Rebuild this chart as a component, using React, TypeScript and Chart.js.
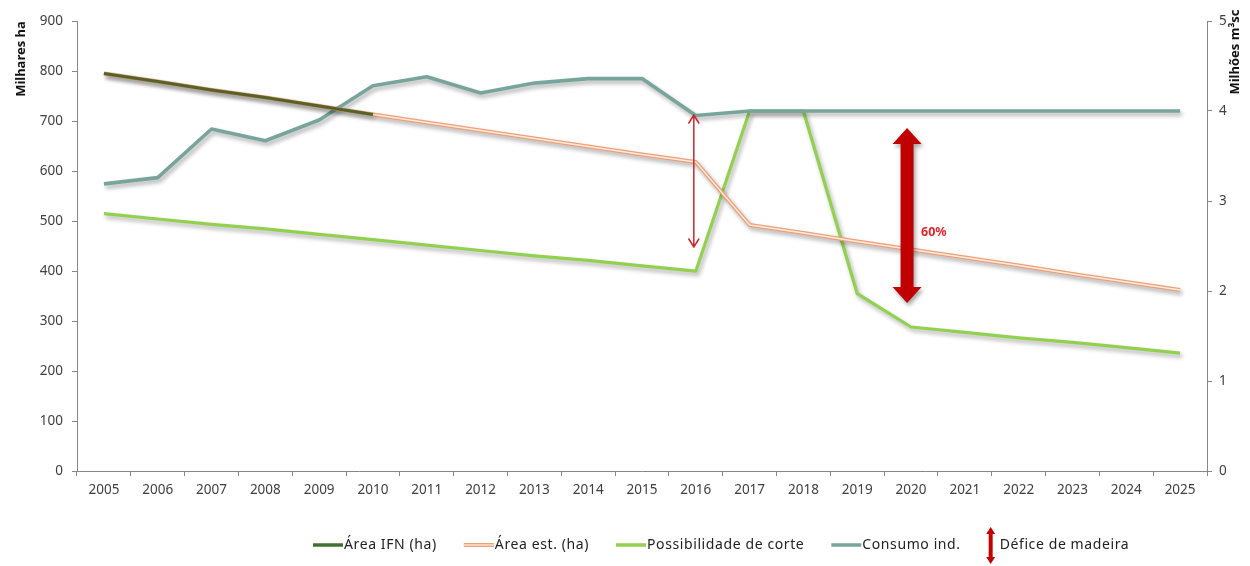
import React, { useEffect, useRef } from "react";
import { Chart, registerables } from "chart.js";

Chart.register(...registerables);

const years = [
  "2005", "2006", "2007", "2008", "2009", "2010", "2011", "2012", "2013", "2014", "2015",
  "2016", "2017", "2018", "2019", "2020", "2021", "2022", "2023", "2024", "2025",
];

// Left axis (Milhares ha)
const areaIFN = [795, 779, 762, 747, 730, 713, null, null, null, null, null, null, null, null, null, null, null, null, null, null, null];
const areaEst = [795, 779, 762, 747, 730, 713, 697, 681, 665, 649, 633, 618, 492, 476, 459, 443, 427, 411, 394, 378, 362];

// Right axis (Milhões m³sc)
const possibilidade = [2.86, 2.8, 2.74, 2.69, 2.63, 2.57, 2.51, 2.45, 2.39, 2.34, 2.28, 2.22, 4.0, 4.0, 1.97, 1.6, 1.54, 1.48, 1.43, 1.37, 1.31];
const consumo = [3.19, 3.26, 3.8, 3.67, 3.9, 4.28, 4.38, 4.2, 4.31, 4.36, 4.36, 3.95, 4.0, 4.0, 4.0, 4.0, 4.0, 4.0, 4.0, 4.0, 4.0];

const leftTicks = [0, 100, 200, 300, 400, 500, 600, 700, 800, 900];
const rightTicks = [0, 1, 2, 3, 4, 5];

// Annotation arrows (category, from, to in left-axis units)
const thinArrowYear = "2016";
const thinArrowRange = [712, 448];
const deficitYear = "2020";
const deficitRange = [686, 336];
const deficitLabel = "60%";
const deficitLabelValue = 478;

const leftTitle = "Milhares ha";
const rightTitle = "Milhões m³sc";
const deficitLegend = "Défice de madeira";

const C_IFN = "#566326";
const C_IFN_LEG = "#3f7230";
const C_EST = "#eba07a";
const C_EST_IN = "#fdebdd";
const C_POS = "#92d050";
const C_CON = "#78a59b";
const C_RED = "#c00000";
const C_AXIS = "#868686";
const C_TXT = "#404040";
const FONT = "'Noto Sans', 'DejaVu Sans', sans-serif";

function blockArrow(ctx: CanvasRenderingContext2D, x: number, yTop: number, yBot: number, shaft: number, headW: number, headH: number) {
  ctx.beginPath();
  ctx.moveTo(x, yTop);
  ctx.lineTo(x + headW / 2, yTop + headH);
  ctx.lineTo(x + shaft / 2, yTop + headH);
  ctx.lineTo(x + shaft / 2, yBot - headH);
  ctx.lineTo(x + headW / 2, yBot - headH);
  ctx.lineTo(x, yBot);
  ctx.lineTo(x - headW / 2, yBot - headH);
  ctx.lineTo(x - shaft / 2, yBot - headH);
  ctx.lineTo(x - shaft / 2, yTop + headH);
  ctx.lineTo(x - headW / 2, yTop + headH);
  ctx.closePath();
  ctx.fill();
}

const shadowPlugin = {
  id: "shadowPlugin",
  beforeDatasetDraw(chart: any, args: any) {
    const ds = chart.data.datasets[args.index];
    const ctx = chart.ctx;
    ctx.save();
    if (ds.noShadow) return;
    ctx.shadowColor = "rgba(0,0,0,0.32)";
    ctx.shadowBlur = 4;
    ctx.shadowOffsetX = 2;
    ctx.shadowOffsetY = 3;
  },
  afterDatasetDraw(chart: any) {
    chart.ctx.restore();
  },
};

const overlayPlugin = {
  id: "overlayPlugin",
  afterDatasetsDraw(chart: any) {
    const ctx: CanvasRenderingContext2D = chart.ctx;
    const xs = chart.scales.x;
    const ys = chart.scales.y;

    // thin double arrow
    const tx = xs.getPixelForValue(years.indexOf(thinArrowYear)) - 2;
    const t1 = ys.getPixelForValue(thinArrowRange[0]);
    const t2 = ys.getPixelForValue(thinArrowRange[1]);
    ctx.save();
    ctx.strokeStyle = "#c42a2e";
    ctx.lineWidth = 1.5;
    ctx.lineCap = "round";
    ctx.lineJoin = "round";
    ctx.beginPath();
    ctx.moveTo(tx, t1);
    ctx.lineTo(tx, t2);
    ctx.moveTo(tx - 5, t1 + 8);
    ctx.lineTo(tx, t1);
    ctx.lineTo(tx + 5, t1 + 8);
    ctx.moveTo(tx - 5, t2 - 8);
    ctx.lineTo(tx, t2);
    ctx.lineTo(tx + 5, t2 - 8);
    ctx.stroke();
    ctx.restore();

    // thick double arrow
    const bx = xs.getPixelForValue(years.indexOf(deficitYear)) - 4;
    const b1 = ys.getPixelForValue(deficitRange[0]);
    const b2 = ys.getPixelForValue(deficitRange[1]);
    ctx.save();
    ctx.shadowColor = "rgba(0,0,0,0.35)";
    ctx.shadowBlur = 4;
    ctx.shadowOffsetX = 2;
    ctx.shadowOffsetY = 3;
    ctx.fillStyle = C_RED;
    blockArrow(ctx, bx, b1, b2, 13, 29, 16);
    ctx.restore();

    ctx.save();
    ctx.fillStyle = "#e0262b";
    ctx.font = `bold 12.5px ${FONT}`;
    ctx.textBaseline = "middle";
    ctx.textAlign = "left";
    ctx.fillText(deficitLabel, bx + 14, ys.getPixelForValue(deficitLabelValue));
    ctx.restore();
  },
  afterDraw(chart: any) {
    const ctx: CanvasRenderingContext2D = chart.ctx;
    // axis titles
    ctx.save();
    ctx.fillStyle = "#111";
    ctx.font = `bold 13px ${FONT}`;
    ctx.textAlign = "center";
    ctx.textBaseline = "middle";
    ctx.translate(21, 59);
    ctx.rotate(-Math.PI / 2);
    ctx.fillText(leftTitle, 0, 0);
    ctx.restore();
    ctx.save();
    ctx.fillStyle = "#111";
    ctx.font = `bold 13px ${FONT}`;
    ctx.textAlign = "center";
    ctx.textBaseline = "middle";
    ctx.translate(1235, 52);
    ctx.rotate(-Math.PI / 2);
    ctx.fillText(rightTitle, 0, 0);
    ctx.restore();

    // legend
    const y = 545;
    let x = 313;
    ctx.save();
    ctx.font = `14px ${FONT}`;
    (ctx as any).letterSpacing = "0.6px";
    ctx.textBaseline = "middle";
    ctx.textAlign = "left";
    const items = [
      { label: chart.data.datasets[0].label, kind: "ifn" },
      { label: chart.data.datasets[2].label, kind: "est" },
      { label: chart.data.datasets[4].label, kind: "pos" },
      { label: chart.data.datasets[3].label, kind: "con" },
      { label: deficitLegend, kind: "arrow" },
    ];
    for (const it of items) {
      if (it.kind === "arrow") {
        ctx.fillStyle = C_RED;
        blockArrow(ctx, x + 3, y - 18, y + 19, 4, 9, 7);
        x += 12;
      } else {
        if (it.kind === "est") {
          ctx.strokeStyle = C_EST;
          ctx.lineWidth = 4;
          ctx.beginPath();
          ctx.moveTo(x, y);
          ctx.lineTo(x + 30, y);
          ctx.stroke();
          ctx.strokeStyle = C_EST_IN;
          ctx.lineWidth = 1.3;
          ctx.beginPath();
          ctx.moveTo(x, y);
          ctx.lineTo(x + 30, y);
          ctx.stroke();
        } else {
          ctx.strokeStyle = it.kind === "ifn" ? C_IFN_LEG : it.kind === "pos" ? C_POS : C_CON;
          ctx.lineWidth = 3.5;
          ctx.beginPath();
          ctx.moveTo(x, y);
          ctx.lineTo(x + 30, y);
          ctx.stroke();
        }
        x += 31;
      }
      ctx.fillStyle = "#222";
      ctx.fillText(it.label, x, y);
      x += ctx.measureText(it.label).width + 27;
    }
    ctx.restore();
  },
};

export default function App() {
  const ref = useRef<HTMLCanvasElement>(null);
  useEffect(() => {
    document.body.style.margin = "0";
    const canvas = ref.current!;
    const tickFont = { family: FONT, size: 13.5 };
    const chart = new Chart(canvas, {
      type: "line",
      data: {
        labels: years,
        datasets: [
          { label: "Área IFN (ha)", data: areaIFN, yAxisID: "y", borderColor: C_IFN, borderWidth: 3.2 } as any,
          { label: "_inner", data: areaEst, yAxisID: "y", borderColor: C_EST_IN, borderWidth: 1.3, noShadow: true } as any,
          { label: "Área est. (ha)", data: areaEst, yAxisID: "y", borderColor: C_EST, borderWidth: 4 } as any,
          { label: "Consumo ind.", data: consumo, yAxisID: "y1", borderColor: C_CON, borderWidth: 3.6 } as any,
          { label: "Possibilidade de corte", data: possibilidade, yAxisID: "y1", borderColor: C_POS, borderWidth: 3.2 } as any,
        ],
      },
      options: {
        animation: false,
        responsive: false,
        events: [],
        elements: {
          point: { radius: 0, hoverRadius: 0 },
          line: { tension: 0, borderJoinStyle: "round", borderCapStyle: "butt" },
        },
        layout: { padding: { top: 21 } },
        plugins: { legend: { display: false }, tooltip: { enabled: false } },
        scales: {
          x: {
            offset: true,
            grid: { display: true, drawOnChartArea: false, tickLength: 5, color: C_AXIS, offset: true },
            border: { color: C_AXIS, width: 1 },
            ticks: { font: tickFont, color: C_TXT, padding: 6, maxRotation: 0, autoSkip: false },
            afterFit: (s: any) => { s.height = 95; },
          },
          y: {
            position: "left",
            min: leftTicks[0],
            max: leftTicks[leftTicks.length - 1],
            afterBuildTicks: (s: any) => { s.ticks = leftTicks.map((v) => ({ value: v })); },
            grid: { display: true, drawOnChartArea: false, tickLength: 5, color: C_AXIS },
            border: { color: C_AXIS, width: 1 },
            ticks: { font: tickFont, color: C_TXT, padding: 9 },
            afterFit: (s: any) => { s.width = 77; },
          },
          y1: {
            position: "right",
            min: rightTicks[0],
            max: rightTicks[rightTicks.length - 1],
            afterBuildTicks: (s: any) => { s.ticks = rightTicks.map((v) => ({ value: v })); },
            grid: { display: true, drawOnChartArea: false, tickLength: 5, color: C_AXIS },
            border: { color: C_AXIS, width: 1 },
            ticks: { font: tickFont, color: C_TXT, padding: 7 },
            afterFit: (s: any) => { s.width = 43; },
          },
        },
      } as any,
      plugins: [shadowPlugin, overlayPlugin],
    });
    return () => chart.destroy();
  }, []);
  return <canvas ref={ref} width={1250} height={566} style={{ display: "block" }} />;
}
